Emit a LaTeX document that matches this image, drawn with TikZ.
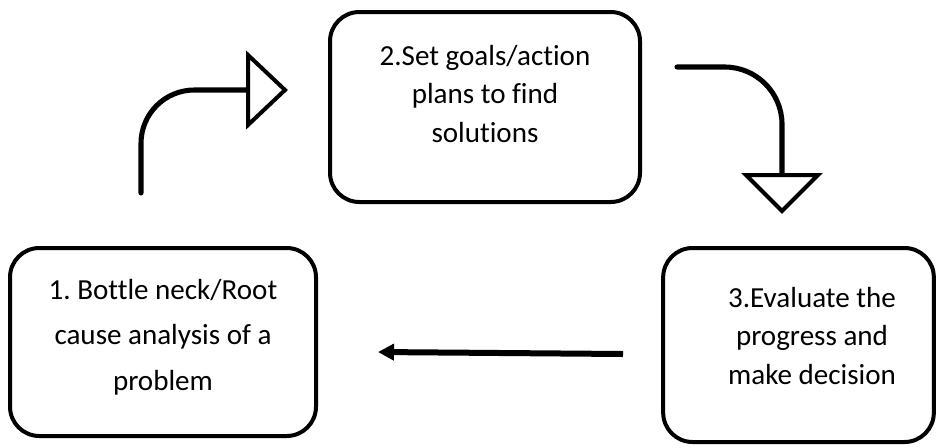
\documentclass[tikz,border=0pt]{standalone}
\usepackage{fontspec}
\setmainfont{Carlito}[Ligatures={NoCommon,NoContextual}]
\usetikzlibrary{arrows.meta}
\frenchspacing
\tikzset{
  box/.style={draw=black, line width=3pt, rounded corners=22pt, fill=white, inner sep=0pt},
  lbl/.style={align=center, font=\fontsize{21.8pt}{29pt}\selectfont, text=black},
  lblwide/.style={align=center, font=\fontsize{21.8pt}{34pt}\selectfont, text=black},
  conn/.style={draw=black, line width=3.8pt, line cap=round},
  openhead/.style={draw=black, line width=3pt, fill=white, line join=miter},
  straightconn/.style={draw=black, line width=4.5pt, -{Triangle[length=12pt,width=12pt]}}
}
\begin{document}
\begin{tikzpicture}[x=0.75pt,y=-0.75pt]
\useasboundingbox (0,0) rectangle (941,447);
\fill[white] (0,0) rectangle (941,447);
% boxes
\node[box, minimum width=229.5pt, minimum height=141pt] (b1) at (163,342) {};
\node[box, minimum width=232.5pt, minimum height=142.5pt] (b2) at (485,107) {};
\node[box, minimum width=203pt, minimum height=145.5pt] (b3) at (798.5,345) {};
% texts
\node[lblwide] (t1) at (163,337) {1. Bottle neck/Root\\cause analysis of a\\problem};
\node[lbl] (t2) at (485,94) {2.Set goals/action\\plans to find\\solutions};
\node[lbl] (t3) at (812,336) {3.Evaluate the\\progress and\\make decision};
% arrow 1 (box 1 -> box 2)
\coordinate (a1s) at (141,193);
\coordinate (a1e) at (248,90);
\draw[conn, rounded corners=40pt] (a1s) |- (a1e);
\coordinate (h1a) at (248,55);
\coordinate (h1t) at (285,90);
\coordinate (h1b) at (248,125);
\draw[openhead] (h1a) -- (h1t) -- (h1b) -- cycle;
% arrow 2 (box 2 -> box 3)
\coordinate (a2s) at (677,67);
\coordinate (a2e) at (782,175);
\draw[conn, rounded corners=43pt] (a2s) -| (a2e);
\coordinate (h2a) at (746,175);
\coordinate (h2t) at (782,211);
\coordinate (h2b) at (818,175);
\draw[openhead] (h2a) -- (h2t) -- (h2b) -- cycle;
% arrow 3 (box 3 -> box 1)
\coordinate (a3s) at (623,354);
\coordinate (a3e) at (378,352);
\draw[straightconn] (a3s) -- (a3e);
\end{tikzpicture}
\end{document}
